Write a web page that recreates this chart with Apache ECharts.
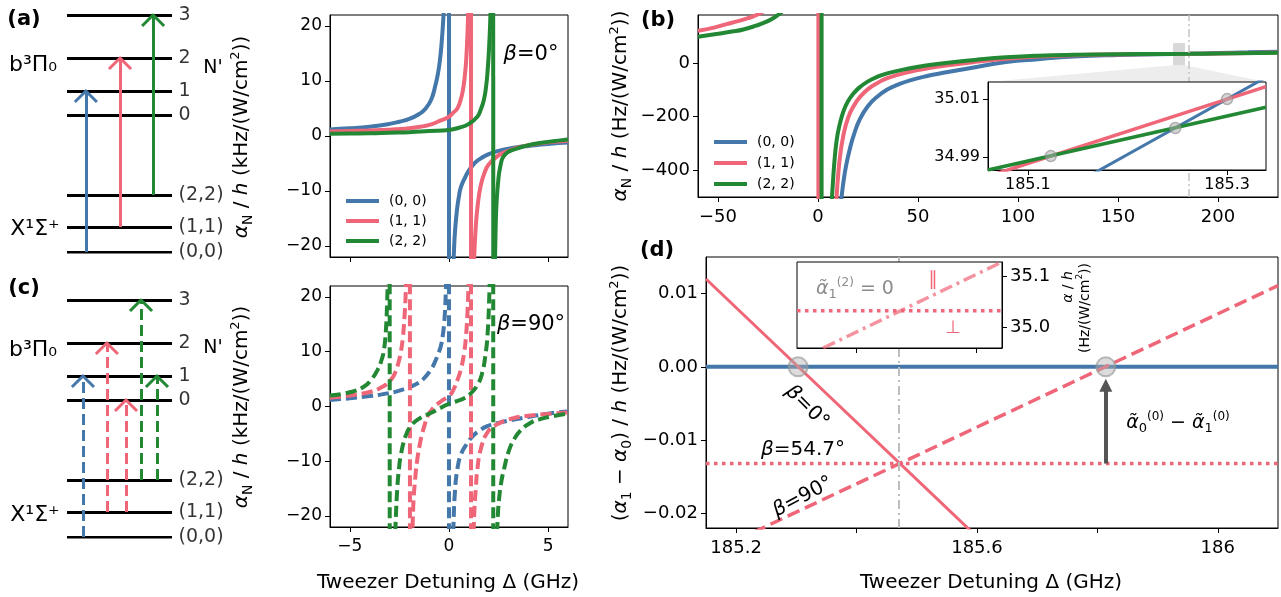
<!DOCTYPE html>
<html><head><meta charset="utf-8">
<script src="https://cdn.jsdelivr.net/npm/echarts@6/dist/echarts.min.js"></script>
<style>html,body{margin:0;padding:0;background:#fff}#c{width:1281px;height:597px}</style>
</head><body><div id="c"></div>
<script>
const BLUE='#4477AA', PINK='#EE6677', GREEN='#228833';
const COL={b:BLUE,p:PINK,g:GREEN};

// ---------- energy level diagrams (arbitrary energy units) ----------
const levelEnergy=[0,25,57,137,161,194,237];
const levelLabels=['(0,0)','(1,1)','(2,2)','0','1','2','3'];
// [x slot, from level index, to level index, colour]
const arrowsA=[[0.18,0,4,'b'],[0.505,1,5,'p'],[0.82,2,6,'g']];
const arrowsC=[[0.152,0,4,'b'],[0.38,1,5,'p'],[0.562,1,3,'p'],[0.705,2,6,'g'],[0.857,2,4,'g']];

// ---------- beta = 0 deg (kHz/(W/cm^2)) vs detuning (GHz) ----------
const b0L=[[-6,1.2],[-5,1.4],[-4,1.7],[-3,2.2],[-2.5,2.6],[-2,3.1],[-1.5,4.0],[-1.2,4.9],[-0.9,6.6],[-0.7,9],[-0.55,11.5],[-0.45,14],[-0.37,17],[-0.3,20.5],[-0.25,24]];
const b0J=[[-0.01,300],[0.01,-300]];
const b0R=[[0.2,-26],[0.25,-21],[0.3,-17.5],[0.4,-13.5],[0.5,-11],[0.6,-9.3],[0.8,-7.6],[1,-6.3],[1.25,-5.1],[1.5,-4.3],[2,-3.3],[2.5,-2.7],[3,-2.3],[3.5,-2.0],[4,-1.8],[5,-1.45],[6,-1.2]];
const p0L=[[-6,0.8],[-5,0.9],[-4,1.0],[-3,1.15],[-2,1.4],[-1.26,1.8],[-0.9,2.1],[-0.5,2.7],[0,3.5],[0.2,4.2],[0.42,5.0],[0.59,6.6],[0.7,8.3],[0.8,11],[0.87,14],[0.93,18.5],[0.97,23],[1.0,27]];
const p0J=[[1.1,300],[1.12,-300]];
const p0R=[[1.22,-27],[1.27,-22],[1.35,-16.5],[1.45,-12.5],[1.6,-9],[1.78,-6.8],[2,-5.2],[2.5,-3.5],[3,-2.7],[3.5,-2.1],[4,-1.7],[5,-1.15],[6,-0.85]];
const g0L=[[-6,0.4],[-5,0.45],[-4,0.5],[-3,0.6],[-2,0.7],[-1,0.9],[0,1.1],[0.5,1.5],[1,2.2],[1.43,3.5],[1.6,4.8],[1.76,6.6],[1.87,9],[1.95,12],[2.02,16],[2.07,20],[2.11,25]];
const g0J=[[2.22,300],[2.24,-300]];
const g0R=[[2.3,-26],[2.35,-17],[2.4,-12],[2.5,-7.5],[2.6,-5.3],[2.69,-4.1],[2.85,-3.3],[3.03,-2.8],[3.5,-2.2],[3.87,-1.8],[4.5,-1.3],[5.72,-0.75],[6,-0.65]];

// ---------- beta = 90 deg ----------
const b9L=[[-6,1.2],[-5,1.5],[-4,1.9],[-3.1,2.4],[-2.5,2.9],[-1.76,3.9],[-1.3,5.0],[-0.92,6.7],[-0.7,8.2],[-0.55,9.6],[-0.42,10.9],[-0.32,12.8],[-0.25,15],[-0.2,17.5],[-0.16,21],[-0.12,26]];
const b9J=[[-0.01,300],[0.01,-300]];
const b9R=[[0.18,-26],[0.22,-22],[0.3,-15.5],[0.42,-11.5],[0.6,-8.8],[0.92,-6.7],[1.2,-5.4],[1.5,-4.5],[1.93,-3.6],[2.5,-3.0],[3.28,-2.4],[4,-1.9],[5,-1.3],[6,-0.9]];
const p9L=[[-6,1.6],[-5,2.0],[-3.95,2.7],[-3.4,3.5],[-2.94,4.8],[-2.7,6.3],[-2.55,8],[-2.44,9.7],[-2.33,12.5],[-2.25,16],[-2.19,20],[-2.15,24]];
const p9J1=[[-1.98,300],[-1.96,-300]];
const p9M=[[-1.85,-25],[-1.8,-18],[-1.7,-13],[-1.6,-9.7],[-1.45,-6.5],[-1.34,-4.8],[-1.2,-3.0],[-1.09,-1.8],[-0.8,-0.3],[-0.42,0.9],[0,1.9],[0.2,2.9],[0.42,4.8],[0.6,6.8],[0.76,9.7],[0.86,13],[0.93,17],[0.98,22],[1.01,26]];
const p9J2=[[1.1,300],[1.12,-300]];
const p9R=[[1.22,-26],[1.28,-19],[1.35,-15],[1.43,-11.5],[1.6,-7.8],[1.93,-4.8],[2.4,-3.3],[3.28,-2.1],[4,-1.7],[5,-1.35],[6,-1.1]];
const g9L=[[-6,2.0],[-5,2.6],[-4.3,3.6],[-3.9,5.0],[-3.6,6.7],[-3.4,8.5],[-3.28,10.3],[-3.18,14],[-3.12,19],[-3.08,24]];
const g9J1=[[-3.0,300],[-2.98,-300]];
const g9M=[[-2.74,-26],[-2.69,-21],[-2.6,-14.5],[-2.52,-11.3],[-2.44,-9.1],[-2.2,-5.5],[-1.93,-3.6],[-1.5,-2.2],[-0.92,-1.2],[-0.4,-0.2],[0,0.5],[0.4,1.0],[0.76,1.5],[1.1,2.4],[1.43,3.9],[1.65,5.8],[1.85,9.7],[1.95,13.5],[2.02,19],[2.06,24]];
const g9J2=[[2.22,300],[2.24,-300]];
const g9R=[[2.4,-26],[2.46,-20],[2.55,-16],[2.65,-13.5],[2.77,-11.5],[3.0,-8.3],[3.28,-6],[3.6,-4.4],[4.1,-3],[4.6,-2.3],[5.2,-1.8],[6,-1.3]];

// ---------- panel (b): Hz/(W/cm^2) vs detuning (GHz) ----------
const bBR=[[11.3,-540],[11.8,-500],[12.7,-445],[14,-385],[16,-318],[18,-266],[21,-208],[25,-160],[29.3,-127],[35,-97],[40,-80],[46,-64],[55,-47],[62,-37],[75,-20],[94,4],[110,15],[128,24.5],[150,30.5],[170,33.4],[185,35],[200,38],[215,40.5],[230,43]];
const pBL=[[-60,121],[-52,133],[-45.7,146],[-40,157],[-35,168],[-30.7,180],[-27,195]];
const pBJ=[[0.2,10000],[0.2,-10000]];
const pBR=[[8.9,-560],[9.3,-500],[10,-425],[11,-350],[12.7,-270],[15,-205],[18,-158],[21,-126],[25,-97],[29.3,-76],[35,-55],[46,-32],[55,-19],[65,-7.5],[80,6],[94,16.5],[110,24.5],[128,29.5],[150,32.8],[170,34.3],[185,35],[200,36.5],[230,40]];
const gBL=[[-60,99],[-50,110],[-43,118],[-37.3,126],[-31,140],[-25.7,155],[-22,170],[-20,180],[-18,192]];
const gBJ=[[1.8,10000],[1.8,-10000]];
const gBR=[[6.6,-560],[7,-500],[7.6,-430],[8.3,-360],[9.3,-290],[10.5,-240],[12.7,-180],[15,-142],[18,-111],[21,-89],[25,-68],[29.3,-52],[35,-37],[46,-19],[55,-8],[65,2],[80,13.5],[94,22],[110,28],[128,31.5],[150,33.6],[170,34.5],[185,35],[200,36.2],[230,38.5]];
const zoomBox={x0:177.5,x1:183.5,y0:-7.5,y1:75};
const magicDetuning=185.47;
// inset of (b)
const bInBlue=[[185.06,34.964],[185.339,35.0175]];
const bInPink=[[185.06,34.9833],[185.339,35.0143]];
const bInGreen=[[185.06,34.9855],[185.339,35.0072]];
const bInCross=[[185.123,34.9903],[185.248,35.0],[185.3,35.01]];

// ---------- panel (d) ----------
const dZero=[[185.15,0],[186.1,0]];
const dBeta0=[[185.15,0.0120],[185.6,-0.0232]];
const dBeta90=[[185.2,-0.0237],[186.1,0.0111]];
const dBeta547=[[185.15,-0.0132],[186.1,-0.0132]];
const dCross=[[185.303,0],[185.814,0]];
const dArrow=[[185.814,-0.0132],[185.814,-0.0025]];
const dMagic=185.472;
const dInPerp=[[185.302,35.033],[185.643,35.033]];
const dInPar=[[185.3455,34.96],[185.643,35.128]];

// ---------- ticks ----------
const midTicksX=[-5,0,5], midTicksY=[-20,-10,0,10,20];
const bTicksX=[-50,0,50,100,150,200], bTicksY=[-400,-200,0];
const bInTicksX=[185.1,185.3], bInTicksY=[34.99,35.01];
const dTicksX=[185.2,185.4,185.6,185.8,186], dLabelsX=[185.2,185.6,186];
const dTicksY=[-0.02,-0.01,0,0.01];
const dInTicksX=[185.4,185.6], dInTicksY=[35.0,35.1];

// ---------- layout ----------
const G={
 diagA:{left:67,top:15,width:105,height:237},
 diagC:{left:67,top:300,width:105,height:237},
 topMid:{left:330,top:15,width:238,height:242},
 botMid:{left:330,top:286,width:238,height:241},
 b:{left:698,top:15,width:580,height:182},
 insetB:{left:988,top:82,width:278,height:88},
 d:{left:706,top:257,width:572,height:271},
 insetD:{left:797,top:262,width:205,height:86}
};
const FONT='DejaVu Sans';
const minus=v=>(v<0?'\u2212':'')+Math.abs(v);
function grid(g,extra){return Object.assign({left:g.left,top:g.top,width:g.width,height:g.height,show:true,borderColor:'#000',borderWidth:1,backgroundColor:'transparent',containLabel:false,outerBoundsMode:'none'},extra||{});}
function vAxis(gi,min,max,ticks,labels,fmt,extra){
 return Object.assign({type:'value',gridIndex:gi,min,max,
  axisLine:{show:true,onZero:false,lineStyle:{color:'#000',width:1}},
  axisTick:{show:true,inside:false,length:5,customValues:ticks,lineStyle:{color:'#000',width:1}},
  axisLabel:{show:labels!==null,customValues:labels||ticks,formatter:fmt||minus,color:'#000',fontSize:17,fontFamily:FONT,margin:8},
  splitLine:{show:false}},extra||{});
}
function L(name,data,gi,color,width,type,extra){
 return Object.assign({type:'line',name,data,xAxisIndex:gi,yAxisIndex:gi,symbol:'none',showSymbol:false,
  lineStyle:{color,width,type:type||'solid'},itemStyle:{color},silent:true,clip:true},extra||{});
}
const SM={smooth:0.5};
const DASH=[11,5];
const LW=4;

const series=[];
// diagrams
function diagram(gi,arrows,dashed){
 series.push({type:'lines',coordinateSystem:'cartesian2d',xAxisIndex:gi,yAxisIndex:gi,silent:true,
  data:levelEnergy.map(e=>({coords:[[0,e],[1,e]]})),
  lineStyle:{color:'#000',width:3,opacity:1,curveness:0}});
 series.push({type:'scatter',xAxisIndex:gi,yAxisIndex:gi,silent:true,symbol:'circle',symbolSize:1,
  itemStyle:{color:'rgba(0,0,0,0)'},
  data:levelEnergy.map((e,i)=>({name:levelLabels[i],value:[1,e]})),
  label:{show:true,position:'right',distance:6,formatter:'{b}',fontSize:19,color:'#000',fontFamily:FONT}});
 series.push({type:'lines',coordinateSystem:'cartesian2d',xAxisIndex:gi,yAxisIndex:gi,silent:true,
  data:arrows.map(a=>({coords:[[a[0],levelEnergy[a[1]]],[a[0],levelEnergy[a[2]]]],lineStyle:{color:COL[a[3]]}})),
  lineStyle:{width:3,opacity:1,type:dashed?DASH:'solid'},z:3});
 series.push({type:'lines',coordinateSystem:'cartesian2d',xAxisIndex:gi,yAxisIndex:gi,silent:true,polyline:true,
  data:arrows.map(a=>{const t=levelEnergy[a[2]];return {coords:[[a[0]-0.105,t-11],[a[0],t],[a[0]+0.105,t-11]],lineStyle:{color:COL[a[3]]}};}),
  lineStyle:{width:3,opacity:1},z:3});
}
diagram(0,arrowsA,false);
diagram(1,arrowsC,true);

// beta=0
series.push(L('(0, 0)',b0L,2,BLUE,LW,null,SM),L('b0J',b0J,2,BLUE,LW),L('b0R',b0R,2,BLUE,LW,null,SM));
series.push(L('(1, 1)',p0L,2,PINK,LW,null,SM),L('p0J',p0J,2,PINK,LW),L('p0R',p0R,2,PINK,LW,null,SM));
series.push(L('(2, 2)',g0L,2,GREEN,LW,null,SM),L('g0J',g0J,2,GREEN,LW),L('g0R',g0R,2,GREEN,LW,null,SM));
// beta=90
[b9L,b9J,b9R].forEach((d,i)=>series.push(L('b9_'+i,d,3,BLUE,LW,DASH,i===1?{}:SM)));
[p9L,p9J1,p9M,p9J2,p9R].forEach((d,i)=>series.push(L('p9_'+i,d,3,PINK,LW,DASH,i%2?{}:SM)));
[g9L,g9J1,g9M,g9J2,g9R].forEach((d,i)=>series.push(L('g9_'+i,d,3,GREEN,LW,DASH,i%2?{}:SM)));

// panel (b)
series.push({type:'custom',xAxisIndex:4,yAxisIndex:4,silent:true,z:1,data:[[zoomBox.x0,zoomBox.y0]],
 renderItem:(params,api)=>{const p0=api.coord([zoomBox.x0,zoomBox.y0]);const p1=api.coord([zoomBox.x1,zoomBox.y1]);
  const ib=G.insetB;
  return {type:'group',children:[
   {type:'polygon',shape:{points:[[p0[0],p0[1]],[p1[0],p0[1]],[ib.left+ib.width,ib.top],[ib.left,ib.top]]},style:{fill:'#ededed'}},
   {type:'rect',shape:{x:p0[0],y:p1[1],width:p1[0]-p0[0],height:p0[1]-p1[1]},style:{fill:'#d8d8d8'}}]};}});
series.push(L('(0, 0)',bBR,4,BLUE,LW,null,Object.assign({markLine:{silent:true,symbol:'none',label:{show:false},
 lineStyle:{color:'#c4c4c4',width:1.5,type:[8,3,2,3]},data:[{xAxis:magicDetuning}]}},SM)));
series.push(L('(1, 1)',pBL,4,PINK,LW,null,SM),L('pBJ',pBJ,4,PINK,LW),L('pBR',pBR,4,PINK,LW,null,SM));
series.push(L('(2, 2)',gBL,4,GREEN,LW,null,SM),L('gBJ',gBJ,4,GREEN,LW),L('gBR',gBR,4,GREEN,LW,null,SM));
// inset (b)
series.push(L('bInB',bInBlue,5,BLUE,3,null,{z:12}),L('bInP',bInPink,5,PINK,3.5,null,{z:12}),L('bInG',bInGreen,5,GREEN,3.5,null,{z:12}));
series.push({type:'scatter',xAxisIndex:5,yAxisIndex:5,data:bInCross,symbolSize:11,silent:true,z:13,
 itemStyle:{color:'rgba(175,175,175,0.65)',borderColor:'rgba(140,140,140,0.8)',borderWidth:1.5}});

// panel (d)
series.push(L('dZero',dZero,6,BLUE,4,null,{markLine:{silent:true,symbol:'none',label:{show:false},
 lineStyle:{color:'#bdbdbd',width:2,type:[9,4,2,4]},data:[{xAxis:dMagic}]}}));
series.push(L('dB0',dBeta0,6,PINK,3));
series.push(L('dB90',dBeta90,6,PINK,3.5,[13,6]));
series.push(L('dB547',dBeta547,6,PINK,3.5,[3.5,4.5]));
series.push({type:'scatter',xAxisIndex:6,yAxisIndex:6,data:dCross,symbolSize:19,silent:true,z:4,
 itemStyle:{color:'rgba(175,175,175,0.55)',borderColor:'rgba(150,150,150,0.8)',borderWidth:2}});
series.push({type:'lines',coordinateSystem:'cartesian2d',xAxisIndex:6,yAxisIndex:6,silent:true,z:5,
 data:[{coords:dArrow}],symbol:['none','triangle'],symbolSize:13,lineStyle:{color:'#555',width:4,opacity:1}});
// inset (d)
series.push(L('dInPerp',dInPerp,7,PINK,3.5,[3.5,4.5],{z:12,markLine:{silent:true,symbol:'none',label:{show:false},
 lineStyle:{color:'#bdbdbd',width:2,type:[9,4,2,4]},data:[{xAxis:dMagic}]}}));
series.push(L('dInPar',dInPar,7,'rgba(238,102,119,0.7)',3.5,[13,5,3,5],{z:12}));

const xAxis=[
 {type:'value',gridIndex:0,min:0,max:1,show:false},
 {type:'value',gridIndex:1,min:0,max:1,show:false},
 vAxis(2,-6,6,midTicksX,null),
 vAxis(3,-6,6,midTicksX,midTicksX),
 vAxis(4,-60,230,bTicksX,bTicksX),
 vAxis(5,185.06,185.339,bInTicksX,bInTicksX,v=>v.toFixed(1),{z:11}),
 vAxis(6,185.15,186.1,dTicksX,dLabelsX,v=>Math.abs(v-186)<1e-6?'186':v.toFixed(1)),
 vAxis(7,185.302,185.643,dInTicksX,null,null,{z:11})
];
xAxis[4].axisLabel.fontSize=18; xAxis[6].axisLabel.fontSize=18;
xAxis[3].axisLabel.margin=11; xAxis[4].axisLabel.margin=11; xAxis[6].axisLabel.margin=11;
xAxis[5].axisLabel.fontSize=16; xAxis[5].axisLabel.margin=7;
const yAxis=[
 {type:'value',gridIndex:0,min:0,max:237,show:false},
 {type:'value',gridIndex:1,min:0,max:237,show:false},
 vAxis(2,-22,22,midTicksY,midTicksY),
 vAxis(3,-22,22,midTicksY,midTicksY),
 vAxis(4,-500,180,bTicksY,bTicksY),
 vAxis(5,34.9855,35.0159,bInTicksY,bInTicksY,v=>v.toFixed(2),{z:11}),
 vAxis(6,-0.022,0.015,dTicksY,dTicksY,v=>(v<0?'\u2212':'')+Math.abs(v).toFixed(2)),
 vAxis(7,34.96,35.128,dInTicksY,dInTicksY,v=>v.toFixed(1),{z:11,position:'right'})
];
yAxis[4].axisLabel.fontSize=18; yAxis[6].axisLabel.fontSize=18;
yAxis[5].axisLabel.fontSize=16; yAxis[7].axisLabel.fontSize=18;

function T(text,x,y,o){o=o||{};return {type:'text',x,y,rotation:(o.rot||0)*Math.PI/180,z:100,silent:true,
 style:{text,fill:o.color||'#000',fontSize:o.size||20,fontFamily:FONT,fontWeight:o.bold?'bold':'normal',fontStyle:o.italic?'italic':'normal',
 align:'center',verticalAlign:'middle'}};}
function R(text,x,y,rot,size,color){
 const s=size||20;const c=color||'#000';
 const rich={n:{fontSize:s,lineHeight:s+6,fontFamily:FONT,fill:c,color:c},i:{fontSize:s,lineHeight:s+6,fontStyle:'italic',fontFamily:FONT,fill:c,color:c},
  sub:{fontSize:Math.round(s*0.7),verticalAlign:'bottom',fontFamily:FONT,fill:c,color:c},sup:{fontSize:Math.round(s*0.65),verticalAlign:'top',fontFamily:FONT,fill:c,color:c}};
 return {type:'text',x,y,rotation:(rot||0)*Math.PI/180,z:100,silent:true,style:{text,rich,fill:c,fontSize:s,fontFamily:FONT,align:'center',verticalAlign:'middle'}};
}
const yTitleK='{i|\u03b1}{sub|N}{n| / }{i|h}{n| (kHz/(W/cm}{sup|2}{n|))}';
const yTitleH='{i|\u03b1}{sub|N}{n| / }{i|h}{n| (Hz/(W/cm}{sup|2}{n|))}';
const yTitleD='{n|(}{i|\u03b1}{sub|1}{n| \u2212 }{i|\u03b1}{sub|0}{n|) / }{i|h}{n| (Hz/(W/cm}{sup|2}{n|))}';
const graphic=[
 T('(a)',24,20,{bold:true,size:21}),T('(c)',24,289,{bold:true,size:21}),T('(b)',658,21,{bold:true,size:21}),T('(d)',657,251,{bold:true,size:21}),
 T('b\u00b3\u03a0\u2080',33,65,{size:22}),T('X\u00b9\u03a3\u207a',35,229,{size:22}),T("N'",213,68,{size:19}),
 T('b\u00b3\u03a0\u2080',33,350,{size:22}),T('X\u00b9\u03a3\u207a',35,515,{size:22}),T("N'",213,348,{size:19}),
 R(yTitleK,242,137,90),R(yTitleK,242,407,90),R(yTitleH,621,106,90),R(yTitleD,621,393,90),
 T('Tweezer Detuning \u0394 (GHz)',448,583,{size:20}),T('Tweezer Detuning \u0394 (GHz)',991,583,{size:20}),
 R('{i|\u03b2}{n|=0\u00b0}',531,55,0,21),R('{i|\u03b2}{n|=90\u00b0}',531,325,0,21),
 R('{i|\u03b2}{n|=0\u00b0}',807,407,-45,20),R('{i|\u03b2}{n|=54.7\u00b0}',803,450,0,20),R('{i|\u03b2}{n|=90\u00b0}',803,497,28,20),
 R('{i|\u03b1\u0303}{sub|0}{sup|(0)}{n| \u2212 }{i|\u03b1\u0303}{sub|1}{sup|(0)}',1178,423,0,19),
 R('{i|\u03b1\u0303}{sub|1}{sup|(2)}{n| = 0}',855,289,0,19,'#8c8c8c'),
 T('\u2225',933,280,{size:19,color:PINK}),T('\u22a5',953,328,{size:18,color:PINK}),
 R('{i|\u03b1}{n| / }{i|h}',1068,287,90,14),R('{n|(Hz/(W/cm}{sup|2}{n|))}',1085,308,90,14)
];

const option={
 animation:false,backgroundColor:'#fff',textStyle:{fontFamily:FONT},
 grid:[
  {left:G.diagA.left,top:G.diagA.top,width:G.diagA.width,height:G.diagA.height,show:false,outerBoundsMode:'none',containLabel:false},
  {left:G.diagC.left,top:G.diagC.top,width:G.diagC.width,height:G.diagC.height,show:false,outerBoundsMode:'none',containLabel:false},
  grid(G.topMid),grid(G.botMid),grid(G.b),grid(G.insetB,{z:10,backgroundColor:'#fff'}),grid(G.d),grid(G.insetD,{z:10,backgroundColor:'#fff'})
 ],
 xAxis,yAxis,series,graphic,
 legend:[
  {data:['(0, 0)','(1, 1)','(2, 2)'],orient:'vertical',left:341,top:189,icon:'rect',itemWidth:33,itemHeight:4,itemGap:6,selectedMode:false,
   textStyle:{fontSize:14,color:'#000',fontFamily:FONT,padding:[0,0,0,5]}},
  {data:['(0, 0)','(1, 1)','(2, 2)'],orient:'vertical',left:709,top:130,icon:'rect',itemWidth:33,itemHeight:4,itemGap:7,selectedMode:false,
   textStyle:{fontSize:14,color:'#000',fontFamily:FONT,padding:[0,0,0,5]}}
 ]
};
const chart=echarts.init(document.getElementById('c'),null,{renderer:'canvas'});
chart.setOption(option);
</script></body></html>
